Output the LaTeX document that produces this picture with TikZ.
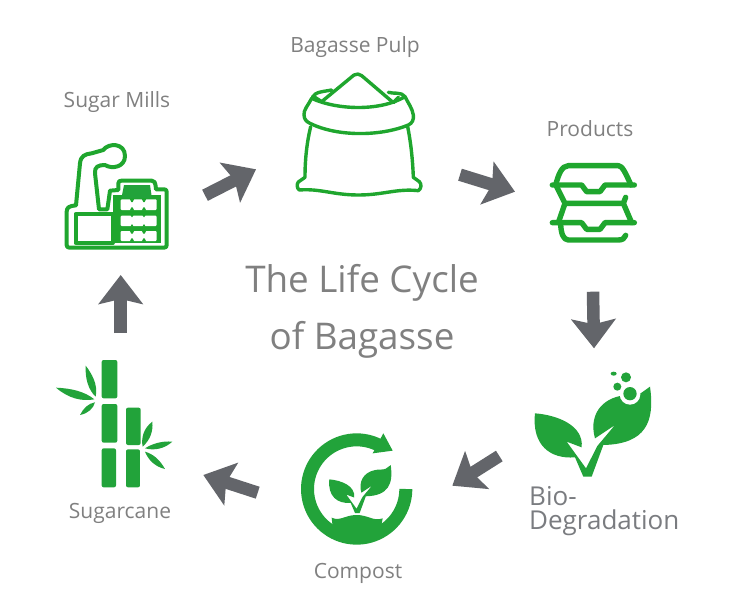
\documentclass[tikz,border=0pt]{standalone}
\usepackage{fontspec}
\setmainfont{Open Sans}
\usetikzlibrary{arrows.meta}
\definecolor{lcgreen}{HTML}{22A33A}
\definecolor{lcline}{HTML}{1FA62E}
\definecolor{lcgray}{HTML}{63656A}
\definecolor{lctext}{HTML}{808080}
\tikzset{
  flow/.style={draw=lcgray,line width=12.5pt,-{Stealth[length=29pt,width=44pt,inset=5pt,fill=lcgray]}},
  lbl/.style={text=lctext,font=\fontsize{21pt}{24pt}\selectfont,inner sep=0pt},
  ttl/.style={text=lctext,font=\fontsize{36.8pt}{40pt}\selectfont,inner sep=0pt},
  biolbl/.style={text=lcgray!85!white,font=\fontsize{26pt}{24pt}\selectfont,inner sep=0pt,anchor=west},
  outline/.style={draw=lcline,line width=3.4pt,line join=round,line cap=round},
  boxline/.style={draw=lcline,line width=5.4pt,line join=round,line cap=round},
  zoomA/.style={shift={#1},scale=0.33333}
}
\newcommand{\leafpair}{(45,160) .. controls (110,165) and (192,195) .. (185,262) -- (140,245) -- (198,325) -- (232,258) -- (285,195) -- (225,235)
  .. controls (208,175) and (235,122) .. (300,108) .. controls (325,102) and (345,108) .. (362,100) -- (390,80)
  .. controls (405,185) and (378,252) .. (250,255) -- (215,350) -- (190,350) -- (165,292)
  .. controls (90,298) and (35,255) .. (45,160) -- cycle}
\begin{document}
\begin{tikzpicture}[x=1pt,y=-1pt]
\useasboundingbox[fill=white] (0,0) rectangle (750,605);

% labels
\node[lbl] (lpulp) at (355,47) {Bagasse Pulp};
\node[lbl] (lmills) at (117,102) {Sugar Mills};
\node[lbl] (lprod) at (590,129) {Products};
\node[lbl] (lcane) at (120,513) {Sugarcane};
\node[lbl] (lcomp) at (358,573) {Compost};
\node[ttl] (t1) at (362,283) {The Life Cycle};
\node[ttl] (t2) at (362,340) {of Bagasse};
\node[biolbl] (lbio) at (529,496) {Bio-};
\node[biolbl] (ldeg) at (529,523) {Degradation};

% arrows
\coordinate (a1s) at (205,195.3); \coordinate (a1e) at (256,169.3);
\coordinate (a2s) at (460,174.7); \coordinate (a2e) at (515,191.7);
\coordinate (a3s) at (593,291.7); \coordinate (a3e) at (594,348.3);
\coordinate (a4s) at (499.3,456); \coordinate (a4e) at (452.3,485.7);
\coordinate (a5s) at (257.7,492.7); \coordinate (a5e) at (203.3,475);
\coordinate (a6s) at (120.7,333); \coordinate (a6e) at (120.7,275);
\draw[flow] (a1s) -- (a1e);
\draw[flow] (a2s) -- (a2e);
\draw[flow] (a3s) -- (a3e);
\draw[flow] (a4s) -- (a4e);
\draw[flow] (a5s) -- (a5e);
\draw[flow] (a6s) -- (a6e);

% factory
\begin{scope}[zoomA={(50,130)}]
\draw[outline,line width=4pt] (50,245) .. controls (50,232) and (58,228) .. (78,226) -- (90,100)
  .. controls (92,78) and (105,72) .. (125,70) -- (160,60)
  .. controls (175,38) and (225,38) .. (225,78) .. controls (225,112) and (185,118) .. (165,105)
  .. controls (145,105) and (133,110) .. (135,130) -- (147,238) -- (172,238) -- (180,182) -- (205,180) -- (205,160)
  .. controls (205,153) and (210,152) .. (215,152) -- (305,152) .. controls (313,152) and (316,155) .. (318,178) -- (342,178)
  .. controls (348,178) and (350,180) .. (350,186) -- (350,345) .. controls (350,350) and (348,353) .. (342,353) -- (58,353)
  .. controls (52,353) and (50,350) .. (50,345) -- cycle;
\fill[lcline] (188,196) rectangle (333,340);
\draw[outline,line width=4pt] (77,252) rectangle (188,339);
\fill[lcgreen] (222,165) -- (300,165) -- (306,205) -- (214,205) -- cycle;
\fill[white,rounded corners=1pt] (212,208) rectangle (320,240);
\fill[white,rounded corners=1pt] (212,257) rectangle (320,288);
\fill[white,rounded corners=1pt] (212,303) rectangle (320,333);
\foreach \wx in {246,282} {
  \fill[lcline] (\wx-7,206) -- (\wx+7,206) -- (\wx+2,216) -- (\wx-2,216) -- cycle;
  \fill[lcline] (\wx-2,232) -- (\wx+2,232) -- (\wx+7,242) -- (\wx-7,242) -- cycle;
  \fill[lcline] (\wx-5,255) -- (\wx+5,255) -- (\wx,262) -- cycle;
  \fill[lcline] (\wx,282) -- (\wx+5,290) -- (\wx-5,290) -- cycle;
  \fill[lcline] (\wx-7,301) -- (\wx+7,301) -- (\wx+2,311) -- (\wx-2,311) -- cycle;
  \fill[lcline] (\wx-2,325) -- (\wx+2,325) -- (\wx+7,335) -- (\wx-7,335) -- cycle;
}
\end{scope}

% sack
\begin{scope}[zoomA={(280,60)}]
\draw[outline] (125,125) -- (222,45) .. controls (230,40) and (238,42) .. (245,47) -- (340,128);
\draw[outline] (95,115) .. controls (170,150) and (300,155) .. (375,110);
\draw[outline] (95,115) .. controls (85,135) and (70,150) .. (72,165) .. controls (73,178) and (78,184) .. (90,190)
  .. controls (170,230) and (300,230) .. (385,195) .. controls (397,190) and (402,178) .. (400,165) .. controls (397,145) and (385,130) .. (375,110);
\draw[outline] (97,112) .. controls (105,95) and (130,95) .. (155,90);
\draw[outline] (105,112) -- (125,125);
\draw[outline] (325,97) .. controls (340,102) and (365,95) .. (375,110);
\draw[outline] (355,112) -- (340,128);
\draw[outline] (92,200) .. controls (80,250) and (75,300) .. (75,352) -- (55,366)
  .. controls (50,372) and (50,385) .. (58,390) .. controls (120,385) and (160,405) .. (235,405)
  .. controls (310,405) and (350,385) .. (415,392) .. controls (425,385) and (425,372) .. (418,365) -- (400,352)
  .. controls (398,300) and (393,250) .. (383,200);
\end{scope}

% products
\begin{scope}[zoomA={(535,150)}]
\draw[boxline] (62,105) .. controls (70,75) and (80,47) .. (100,47) -- (250,47) .. controls (262,47) and (272,70) .. (288,105);
\draw[boxline] (52,105) -- (140,105) -- (155,125) -- (195,125) -- (210,105) -- (298,105);
\draw[boxline] (65,110) -- (90,160) -- (265,160) -- (272,142);
\draw[boxline] (90,160) -- (70,218);
\draw[boxline] (265,160) -- (290,218);
\draw[boxline] (52,218) -- (140,218) -- (155,238) -- (195,238) -- (210,218) -- (298,218);
\draw[boxline] (77,222) .. controls (78,250) and (85,270) .. (100,270) -- (250,270) .. controls (262,270) and (270,265) .. (272,256);
\end{scope}

% biodegradation leaves
\begin{scope}[zoomA={(520,360)}]
\fill[lcgreen] \leafpair;
\fill[white] (330,103) circle (31);
\fill[lcgreen] (330,101) circle (20);
\fill[lcgreen] (318,52) circle (15);
\fill[lcgreen] (292,80) circle (12);
\fill[lcgreen] (281,41) ellipse (9 and 6);
\end{scope}

% compost
\begin{scope}[zoomA={(290,420)}]
\draw[lcgreen,line width=13pt] plot[domain=0:300,samples=70] ({200+147.5*cos(\x)},{207+147.5*sin(\x)});
\fill[lcgreen] (280,40) -- (308,92) -- (248,100) -- cycle;
\fill[lcgreen] (125,293) .. controls (150,305) and (165,285) .. (200,285) .. controls (235,285) and (250,305) .. (278,295) -- (270,340) -- (200,355) -- (130,340) -- cycle;
\end{scope}
\begin{scope}[shift={(321.3,450.9)},scale=0.178]
\fill[lcgreen] \leafpair;
\end{scope}

% sugarcane
\begin{scope}[zoomA={(45,350)}]
\begin{scope}[lcgreen]
\fill[rounded corners=2pt] (170,30) rectangle (217,145);
\fill[rounded corners=2pt] (170,162) rectangle (217,278);
\fill[rounded corners=2pt] (170,295) rectangle (213,412);
\fill[rounded corners=2pt] (243,173) rectangle (287,285);
\fill[rounded corners=2pt] (243,298) rectangle (285,412);
\fill (122,47) .. controls (120,85) and (130,120) .. (152,140) .. controls (160,105) and (140,70) .. (122,47) -- cycle;
\fill (33,113) .. controls (70,145) and (110,155) .. (148,148) .. controls (120,125) and (80,115) .. (33,113) -- cycle;
\fill (105,195) .. controls (130,190) and (145,175) .. (150,157) .. controls (130,160) and (115,175) .. (105,195) -- cycle;
\fill (322,215) .. controls (295,235) and (288,265) .. (293,290) .. controls (315,270) and (325,245) .. (322,215) -- cycle;
\fill (382,275) .. controls (350,272) and (320,282) .. (300,295) .. controls (330,303) and (360,295) .. (382,275) -- cycle;
\fill (360,357) .. controls (345,330) and (325,312) .. (300,305) .. controls (310,330) and (330,350) .. (360,357) -- cycle;
\end{scope}
\end{scope}
\end{tikzpicture}
\end{document}
